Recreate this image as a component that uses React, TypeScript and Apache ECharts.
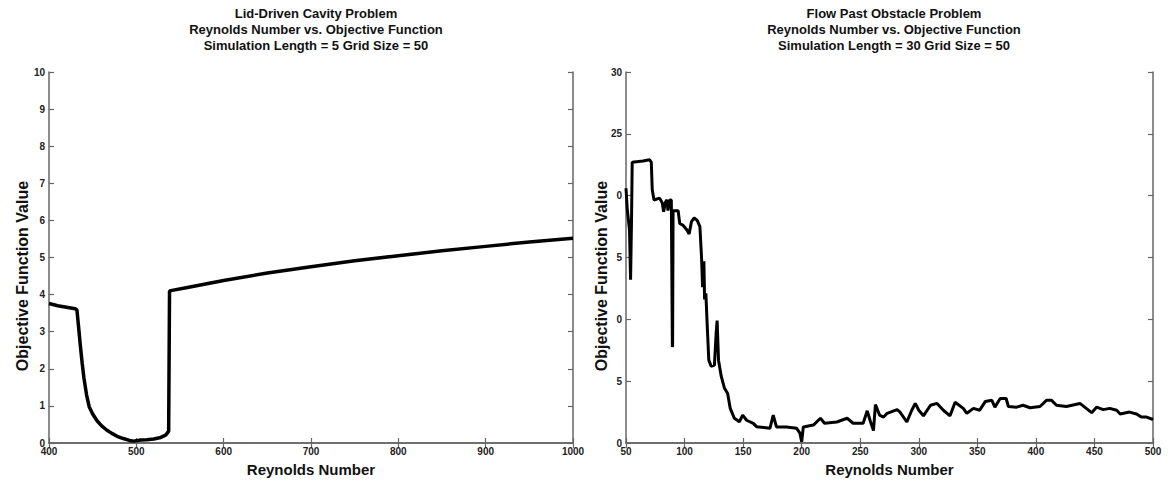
import React, { useEffect, useRef } from "react";
import * as echarts from "echarts";

// Lid-driven cavity: Reynolds number vs objective value
const cavityRe = [400, 410, 420, 430, 432, 434, 436, 438, 440, 443, 446, 450, 455, 460, 466, 472, 478, 485, 492, 497, 505, 512, 520, 528, 534, 537, 538, 560, 600, 650, 700, 750, 800, 850, 900, 950, 1000];
const cavityObj = [3.76, 3.7, 3.66, 3.62, 3.58, 3.1, 2.6, 2.15, 1.75, 1.3, 0.98, 0.78, 0.6, 0.47, 0.35, 0.26, 0.18, 0.12, 0.07, 0.05, 0.08, 0.09, 0.11, 0.15, 0.22, 0.32, 4.1, 4.2, 4.38, 4.58, 4.75, 4.91, 5.05, 5.18, 5.3, 5.42, 5.52];

// Flow past obstacle: Reynolds number vs objective value
const obstacleRe = [50, 51, 53, 53.9, 54.7, 55.3, 64.5, 70.2, 71.6, 72.4, 73.9, 78.7, 81, 82.1, 83.8, 85, 85.8, 87.3, 88.7, 89.6, 89.8, 90.2, 94.5, 95.9, 98.8, 102.2, 103.9, 105.9, 108.2, 110.8, 113.1, 114.5, 115.4, 116.5, 117.1, 118.2, 119.4, 120.7, 122.7, 125.5, 127, 127.8, 129, 131.3, 134, 136.8, 139, 142.5, 146.8, 149.6, 153, 158.7, 161.5, 173, 175.7, 178.5, 187, 195.6, 198.5, 200, 201.4, 210, 216, 219.5, 230, 238.8, 244, 252.5, 256, 258.5, 261.3, 263, 266.5, 270, 273, 281.5, 284, 289.8, 294, 297, 300, 304, 310, 315.6, 321, 326.7, 331, 338, 341, 346.7, 352, 356.7, 362.4, 365, 369.5, 374.6, 376.5, 383.6, 389, 395, 403.5, 409, 413.4, 417.6, 426, 437.6, 443, 447.6, 451.8, 457.5, 463, 469, 472, 480, 486, 490, 494.5, 500];
const obstacleObj = [20.6, 19.0, 17.2, 13.2, 18.0, 22.7, 22.8, 22.9, 22.7, 20.5, 19.65, 19.8, 19.4, 18.7, 19.5, 19.65, 18.8, 19.65, 19.65, 7.76, 7.9, 18.78, 18.78, 17.75, 17.6, 17.2, 16.9, 17.9, 18.2, 18.0, 17.5, 15.0, 12.6, 14.7, 11.6, 12.1, 9.4, 6.7, 6.2, 6.3, 8.9, 9.9, 6.7, 5.4, 4.45, 4.0, 2.8, 2.0, 1.72, 2.26, 1.84, 1.59, 1.32, 1.2, 2.26, 1.3, 1.3, 1.2, 0.8, 0.1, 1.3, 1.45, 2.0, 1.6, 1.7, 2.0, 1.6, 1.6, 2.6, 1.8, 1.0, 3.1, 2.26, 2.1, 2.4, 2.7, 2.5, 1.7, 2.65, 3.2, 2.65, 2.2, 3.05, 3.2, 2.65, 2.2, 3.3, 2.8, 2.4, 2.8, 2.65, 3.35, 3.45, 2.9, 3.6, 3.6, 2.95, 2.9, 3.05, 2.85, 2.95, 3.45, 3.45, 3.05, 2.95, 3.2, 2.8, 2.45, 2.9, 2.7, 2.8, 2.65, 2.35, 2.5, 2.35, 2.1, 2.1, 1.9];

// Tick labels of the right-hand value axis, as printed (0 … 30 in steps of 5)
const obstacleYTickLabels = ["0", "5", "0", "5", "0", "25", "30"];

const cavityTitle = ["Lid-Driven Cavity Problem", "Reynolds Number vs. Objective Function", "Simulation Length = 5 Grid Size = 50"];
const obstacleTitle = ["Flow Past Obstacle Problem", "Reynolds Number vs. Objective Function", "Simulation Length = 30 Grid Size = 50"];

const xAxisTitle = "Reynolds Number";
const yAxisTitle = "Objective Function Value";

const FONT = "'Liberation Sans', Arial, sans-serif";
const AXIS_COLOR = "#666";
const LABEL_COLOR = "#222";

function zip(xs: number[], ys: number[]) {
  return xs.map((x, i) => [x, ys[i]]);
}

export default function App() {
  const ref = useRef<HTMLDivElement>(null);

  useEffect(() => {
    if (!ref.current) return;
    const chart = echarts.init(ref.current, undefined, { renderer: "svg" });

    const axisLine = { show: true, lineStyle: { color: AXIS_COLOR, width: 1.5 } };
    const tick = { show: true, inside: true, length: 5, lineStyle: { color: AXIS_COLOR, width: 1.2 } };
    const tickLabel = { color: LABEL_COLOR, fontSize: 10, fontWeight: "bold" as const, fontFamily: FONT };
    const nameStyle = { color: "#111", fontSize: 15, fontWeight: "bold" as const, fontFamily: FONT };

    const makeX = (grid: number, min: number, max: number, interval: number) => [
      {
        type: "value", gridIndex: grid, min, max, interval, position: "bottom",
        axisLine, axisTick: tick, splitLine: { show: false },
        axisLabel: { ...tickLabel, margin: 3, formatter: (v: number) => String(v) },
        name: xAxisTitle, nameLocation: "middle", nameGap: 19, nameTextStyle: nameStyle,
      },
      {
        type: "value", gridIndex: grid, min, max, interval, position: "top",
        axisLine, axisTick: tick, splitLine: { show: false }, axisLabel: { show: false },
      },
    ];
    const makeY = (grid: number, min: number, max: number, interval: number, formatter?: (v: number) => string) => [
      {
        type: "value", gridIndex: grid, min, max, interval, position: "left",
        axisLine, axisTick: tick, splitLine: { show: false },
        axisLabel: { ...tickLabel, margin: 4, formatter: formatter ?? ((v: number) => String(v)) },
      },
      {
        type: "value", gridIndex: grid, min, max, interval, position: "right",
        axisLine, axisTick: tick, splitLine: { show: false }, axisLabel: { show: false },
      },
    ];

    const titleStyle = { color: "#111", fontSize: 13, fontWeight: "bold" as const, fontFamily: FONT, lineHeight: 16 };

    // Rotated value-axis captions
    const yCaption = (x: number) => ({
      type: "text", x, y: 276, rotation: Math.PI / 2,
      style: {
        text: yAxisTitle, fill: "#111", font: `bold 16px ${FONT}`,
        textAlign: "center", textVerticalAlign: "middle",
      },
    });

    chart.setOption({
      animation: false,
      backgroundColor: "#fff",
      title: [
        { text: cavityTitle.join("\n"), left: 311, top: 0, textAlign: "center", textStyle: titleStyle },
        { text: obstacleTitle.join("\n"), left: 889, top: 0, textAlign: "center", textStyle: titleStyle },
      ],
      graphic: [yCaption(22), yCaption(601)],
      grid: [
        { left: 49, right: 595, top: 72, bottom: 41 },
        { left: 626, right: 15, top: 72, bottom: 41 },
      ],
      xAxis: [...makeX(0, 400, 1000, 100), ...makeX(1, 50, 500, 50)],
      yAxis: [
        ...makeY(0, 0, 10, 1),
        ...makeY(1, 0, 30, 5, (v: number) => obstacleYTickLabels[Math.round(v / 5)] ?? String(v)),
      ],
      series: [
        {
          type: "line", xAxisIndex: 0, yAxisIndex: 0,
          data: zip(cavityRe, cavityObj),
          showSymbol: false, lineStyle: { color: "#000", width: 3.5 },
        },
        {
          type: "line", xAxisIndex: 2, yAxisIndex: 2,
          data: zip(obstacleRe, obstacleObj),
          showSymbol: false, lineStyle: { color: "#000", width: 3 },
        },
      ],
    });

    return () => chart.dispose();
  }, []);

  return (
    <div
      ref={ref}
      style={{ position: "fixed", left: 0, top: 0, width: 1168, height: 484, background: "#fff" }}
    />
  );
}
